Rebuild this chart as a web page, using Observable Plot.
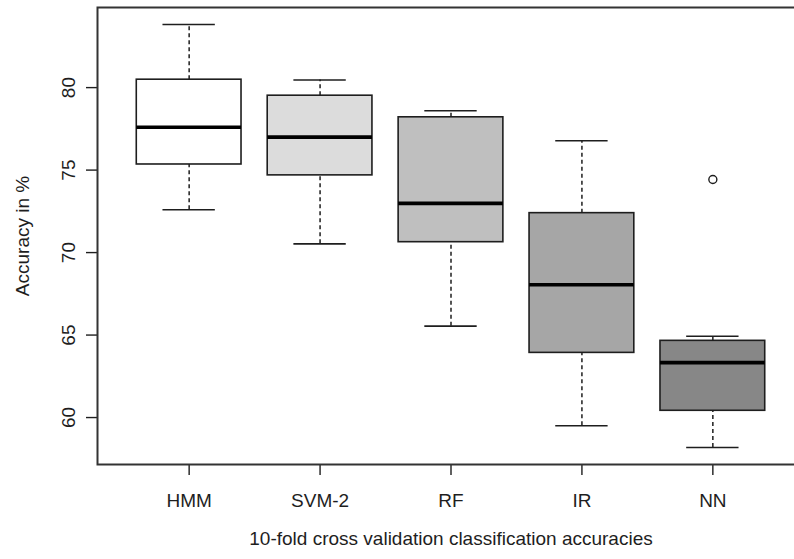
<!DOCTYPE html>
<html>
<head>
<meta charset="utf-8">
<script src="https://cdn.jsdelivr.net/npm/d3@7"></script>
<script src="https://cdn.jsdelivr.net/npm/@observablehq/plot@0.6"></script>
<style>
  html, body { margin: 0; padding: 0; background: #fff; overflow: hidden; }
  #chart { width: 794px; height: 559px; overflow: hidden; }
</style>
</head>
<body>
<div id="chart"></div>
<script>
// Categories and five-number summaries
const names = ["HMM", "SVM-2", "RF", "IR", "NN"];
const lowerWhisker = [72.6, 70.53, 65.54, 59.5, 58.18];
const q1 = [75.34, 74.68, 70.63, 63.92, 60.41];
const median = [77.6, 77.0, 72.98, 68.05, 63.33];
const q3 = [80.48, 79.51, 78.2, 72.39, 64.65];
const upperWhisker = [83.83, 80.46, 78.6, 76.78, 64.93];
const outlierGroups = ["NN"];
const outlierValues = [74.43];
const yTicks = [60, 65, 70, 75, 80];
const xTitle = "10-fold cross validation classification accuracies";
const yTitle = "Accuracy in %";

const boxFills = ["#ffffff", "#dcdcdc", "#bfbfbf", "#a6a6a6", "#878787"];
const ink = "#1e1e1e";
const font = "'Liberation Sans', Arial, Helvetica, sans-serif";

const boxes = names.map((name, i) => ({
  name, pos: i + 1,
  lw: lowerWhisker[i], q1: q1[i], med: median[i], q3: q3[i], uw: upperWhisker[i],
  fill: boxFills[i]
}));
const outliers = outlierGroups.map((g, i) => ({pos: names.indexOf(g) + 1, value: outlierValues[i]}));

// R-style axis extents: data range padded by 4%
const allVals = [...lowerWhisker, ...upperWhisker, ...outlierValues];
const yMin = d3.min(allVals), yMax = d3.max(allVals);
const yPad = (yMax - yMin) * 0.04;
const xLo = 0.5, xHi = names.length + 0.5, xPad = (xHi - xLo) * 0.04;

const plot = Plot.plot({
  width: 794,
  height: 559,
  marginLeft: 97,
  marginRight: -10,
  marginTop: 7,
  marginBottom: 95,
  style: {fontFamily: font, fontSize: "19px", color: ink, background: "#fff", overflow: "hidden"},
  x: {type: "linear", domain: [xLo - xPad, xHi + xPad]},
  y: {domain: [yMin - yPad, yMax + yPad]},
  color: {type: "identity"},
  marks: [
    Plot.rect(boxes, {x1: d => d.pos - 0.4, x2: d => d.pos + 0.4, y1: "q1", y2: "q3", fill: "fill", stroke: ink, strokeWidth: 1.6}),
    Plot.ruleX(boxes, {x: "pos", y1: "q3", y2: "uw", stroke: ink, strokeWidth: 1.5, strokeDasharray: "4,3"}),
    Plot.ruleX(boxes, {x: "pos", y1: "lw", y2: "q1", stroke: ink, strokeWidth: 1.5, strokeDasharray: "4,3"}),
    Plot.ruleY(boxes, {y: "uw", x1: d => d.pos - 0.2, x2: d => d.pos + 0.2, stroke: ink, strokeWidth: 1.6}),
    Plot.ruleY(boxes, {y: "lw", x1: d => d.pos - 0.2, x2: d => d.pos + 0.2, stroke: ink, strokeWidth: 1.6}),
    Plot.ruleY(boxes, {y: "med", x1: d => d.pos - 0.4, x2: d => d.pos + 0.4, stroke: "#000", strokeWidth: 3.6}),
    Plot.dot(outliers, {x: "pos", y: "value", r: 4, stroke: ink, fill: "#fff", strokeWidth: 1.4}),
    Plot.axisY({ticks: yTicks, tickSize: 11, tickFormat: () => "", stroke: ink, strokeWidth: 1.4, label: null}),
    Plot.text(yTicks, {y: d => d, text: d => String(d), frameAnchor: "left", dx: -29, rotate: -90, textAnchor: "middle", lineAnchor: "middle", fontSize: 19, fill: ink}),
    Plot.axisX({ticks: d3.range(1, names.length + 1), tickSize: 11, tickPadding: 18, tickFormat: i => names[i - 1], stroke: ink, strokeWidth: 1.4, fontSize: 19, label: null}),
    Plot.text([yTitle], {frameAnchor: "left", dx: -75, rotate: -90, textAnchor: "middle", lineAnchor: "middle", fontSize: 19, fill: ink}),
    Plot.text([xTitle], {frameAnchor: "bottom", dy: 74, textAnchor: "middle", lineAnchor: "middle", fontSize: 19, fill: ink}),
    Plot.frame({stroke: "#333", strokeWidth: 2})
  ]
});
document.getElementById("chart").appendChild(plot);
</script>
</body>
</html>
